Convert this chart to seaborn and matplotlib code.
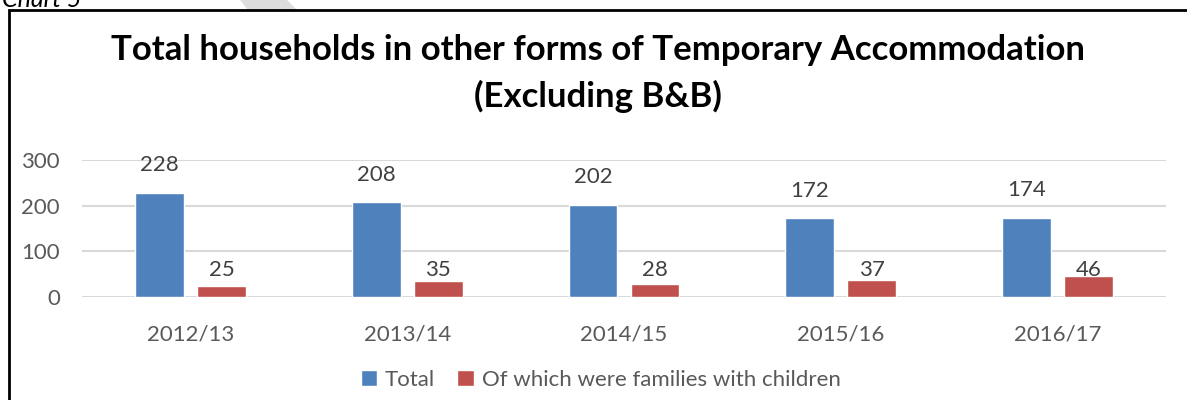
import matplotlib
matplotlib.use('Agg')
import matplotlib.pyplot as plt
import seaborn as sns
import pandas as pd
from matplotlib.patches import Patch, Polygon, Rectangle

# data
years = ['2012/13', '2013/14', '2014/15', '2015/16', '2016/17']
total = [228, 208, 202, 172, 174]
families = [25, 35, 28, 37, 46]
series_names = ['Total', 'Of which were families with children']
colors = ['#4F81BD', '#C0504D']

df = pd.DataFrame({
    'year': years * 2,
    'value': total + families,
    'series': [series_names[0]] * len(years) + [series_names[1]] * len(years),
})

sns.set_style('white')
plt.rcParams['font.family'] = ['Lato', 'DejaVu Sans']

W, H = 1187, 400
fig = plt.figure(figsize=(W / 100, H / 100), dpi=100)
ax = fig.add_axes([82 / W, 1 - 297 / H, (1166 - 82) / W, (297 - 160) / H])

sns.barplot(data=df, x='year', y='value', hue='series', palette=colors,
            width=0.572, gap=0.21, legend=False, ax=ax, saturation=1)

ax.set_ylim(0, 300)
ax.set_yticks([0, 100, 200, 300])
ax.grid(axis='y', color='#D9D9D9', linewidth=1.5)
ax.set_axisbelow(True)
for s in ax.spines.values():
    s.set_visible(False)
ax.set_xlabel('')
ax.set_ylabel('')
ax.tick_params(axis='x', length=0, pad=20, labelsize=16, labelcolor='#595959')
ax.tick_params(axis='y', length=0, pad=16, labelsize=16, labelcolor='#595959')

# value labels (blue ones sit well above, red ones on a common line)
for i, c in enumerate(ax.containers):
    for j, bar in enumerate(c):
        x = bar.get_x() + bar.get_width() / 2
        v = bar.get_height()
        y = v + 60 if i == 0 else 59
        ax.text(x, y, str(int(v)), ha='center', va='center',
                fontsize=16, color='#404040')

fig.text(0.504, 1 - 50 / H, 'Total households in other forms of Temporary Accommodation',
         ha='center', va='center', fontsize=25, fontweight='bold', color='black')
fig.text(0.504, 1 - 96 / H, '(Excluding B&B)',
         ha='center', va='center', fontsize=25, fontweight='bold', color='black')

handles = [Patch(facecolor=colors[0]), Patch(facecolor=colors[1])]
fig.legend(handles, series_names, loc='center', bbox_to_anchor=(0.506, 1 - 380 / H),
           ncol=2, frameon=False, fontsize=16, labelcolor='#595959',
           handlelength=0.75, handleheight=0.75, handletextpad=0.35, columnspacing=1.0)

# page bits: frame around the chart, caption above, watermark sliver
fig.patches.append(Polygon([[240 / W, 1], [287 / W, 1], [297 / W, 1 - 10 / H], [248 / W, 1 - 10 / H]],
                           closed=True, transform=fig.transFigure, facecolor='#DDDDDD',
                           edgecolor='none', zorder=0))
fig.patches.append(Rectangle((9 / W, -0.05), 1.1, 1 - 10 / H + 0.05, transform=fig.transFigure,
                             facecolor='none', edgecolor='black', linewidth=2, zorder=1))
fig.text(2 / W, 1 - 7 / H, 'Chart 5', fontsize=18, style='italic', va='baseline', color='black')

fig.savefig('out.png', dpi=100)
